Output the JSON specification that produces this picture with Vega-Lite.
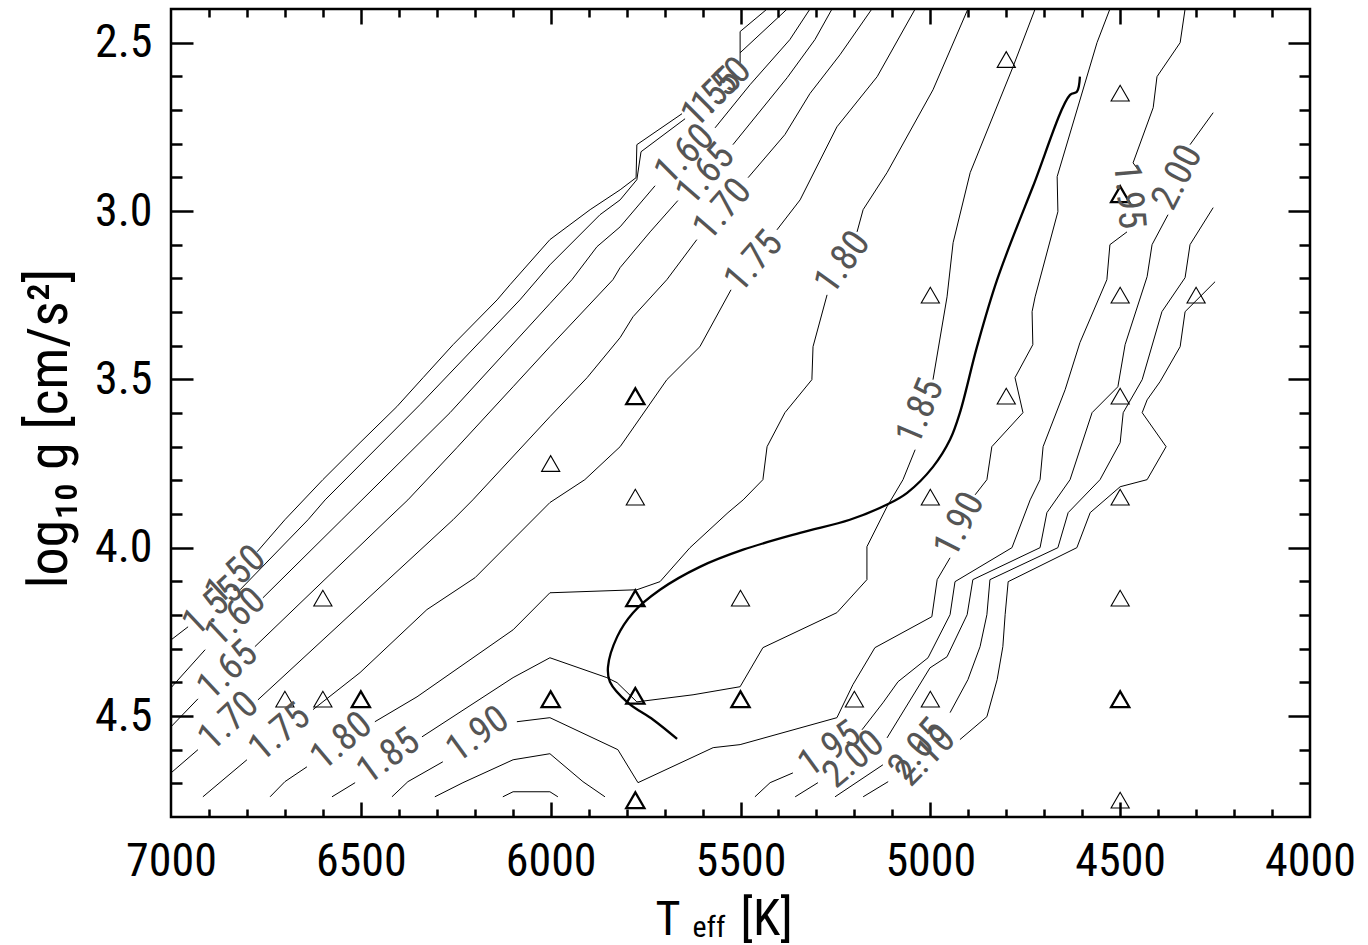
{
"$schema": "https://vega.github.io/schema/vega-lite/v6.json",
"width": 1139, "height": 808,
"autosize": "none",
"padding": {"left": 171, "top": 9, "right": 58, "bottom": 128},
"background": "white",
"config": {
  "view": {"stroke": "black", "strokeWidth": 2.5},
  "axis": {"grid": false, "domain": false, "tickColor": "black", "tickWidth": 2.5, "labelColor": "black", "titleColor": "black", "titleFontWeight": "normal", "labelFont": "Liberation Sans Narrow, Roboto Condensed, DejaVu Sans Condensed, sans-serif", "titleFont": "Liberation Sans Narrow, Roboto Condensed, DejaVu Sans Condensed, sans-serif"}
},
"datasets": {
"contours": [
{"lev":"1.50","seg":"150b","T":6773,"g":4.012},{"lev":"1.50","seg":"150b","T":6700,"g":3.917},{"lev":"1.50","seg":"150b","T":6600,"g":3.798},{"lev":"1.50","seg":"150b","T":6502,"g":3.688},{"lev":"1.50","seg":"150b","T":6405,"g":3.581},{"lev":"1.50","seg":"150b","T":6336,"g":3.495},{"lev":"1.50","seg":"150b","T":6257,"g":3.397},{"lev":"1.50","seg":"150b","T":6141,"g":3.264},{"lev":"1.50","seg":"150b","T":6107,"g":3.219},{"lev":"1.50","seg":"150b","T":6002,"g":3.085},{"lev":"1.50","seg":"150b","T":5896,"g":2.996},{"lev":"1.50","seg":"150b","T":5817,"g":2.937},{"lev":"1.50","seg":"150b","T":5775,"g":2.901},{"lev":"1.50","seg":"150b","T":5773,"g":2.803},{"lev":"1.50","seg":"150b","T":5654,"g":2.711},
{"lev":"1.50","seg":"150c","T":5501,"g":2.560},{"lev":"1.50","seg":"150c","T":5501,"g":2.467},{"lev":"1.50","seg":"150c","T":5430,"g":2.4},
{"lev":"1.55","seg":"155a","T":7000,"g":4.274},{"lev":"1.55","seg":"155a","T":6955,"g":4.235},
{"lev":"1.55","seg":"155b","T":6818,"g":4.125},{"lev":"1.55","seg":"155b","T":6639,"g":3.917},{"lev":"1.55","seg":"155b","T":6594,"g":3.858},{"lev":"1.55","seg":"155b","T":6344,"g":3.575},{"lev":"1.55","seg":"155b","T":6081,"g":3.264},{"lev":"1.55","seg":"155b","T":6002,"g":3.160},{"lev":"1.55","seg":"155b","T":5870,"g":3.011},{"lev":"1.55","seg":"155b","T":5817,"g":2.967},{"lev":"1.55","seg":"155b","T":5773,"g":2.907},{"lev":"1.55","seg":"155b","T":5762,"g":2.824},{"lev":"1.55","seg":"155b","T":5646,"g":2.726},
{"lev":"1.55","seg":"155c","T":5501,"g":2.530},{"lev":"1.55","seg":"155c","T":5377,"g":2.4},
{"lev":"1.60","seg":"160a","T":7000,"g":4.416},{"lev":"1.60","seg":"160a","T":6910,"g":4.303},
{"lev":"1.60","seg":"160b","T":6758,"g":4.149},{"lev":"1.60","seg":"160b","T":6550,"g":3.917},{"lev":"1.60","seg":"160b","T":6497,"g":3.858},{"lev":"1.60","seg":"160b","T":6265,"g":3.599},{"lev":"1.60","seg":"160b","T":6002,"g":3.275},{"lev":"1.60","seg":"160b","T":5944,"g":3.204},{"lev":"1.60","seg":"160b","T":5878,"g":3.106},{"lev":"1.60","seg":"160b","T":5817,"g":3.047},{"lev":"1.60","seg":"160b","T":5725,"g":2.925},
{"lev":"1.60","seg":"160c","T":5567,"g":2.753},{"lev":"1.60","seg":"160c","T":5475,"g":2.625},{"lev":"1.60","seg":"160c","T":5370,"g":2.491},{"lev":"1.60","seg":"160c","T":5317,"g":2.4},
{"lev":"1.65","seg":"165a","T":7000,"g":4.532},{"lev":"1.65","seg":"165a","T":6929,"g":4.449},
{"lev":"1.65","seg":"165b","T":6779,"g":4.294},{"lev":"1.65","seg":"165b","T":6431,"g":3.917},{"lev":"1.65","seg":"165b","T":6376,"g":3.858},{"lev":"1.65","seg":"165b","T":6247,"g":3.703},{"lev":"1.65","seg":"165b","T":6099,"g":3.522},{"lev":"1.65","seg":"165b","T":6002,"g":3.403},{"lev":"1.65","seg":"165b","T":5836,"g":3.204},{"lev":"1.65","seg":"165b","T":5817,"g":3.168},{"lev":"1.65","seg":"165b","T":5738,"g":3.062},{"lev":"1.65","seg":"165b","T":5665,"g":2.969},
{"lev":"1.65","seg":"165c","T":5520,"g":2.803},{"lev":"1.65","seg":"165c","T":5377,"g":2.604},{"lev":"1.65","seg":"165c","T":5304,"g":2.491},{"lev":"1.65","seg":"165c","T":5259,"g":2.4},
{"lev":"1.70","seg":"170a","T":7000,"g":4.669},{"lev":"1.70","seg":"170a","T":6929,"g":4.600},
{"lev":"1.70","seg":"170b","T":6771,"g":4.452},{"lev":"1.70","seg":"170b","T":6257,"g":3.917},{"lev":"1.70","seg":"170b","T":6205,"g":3.858},{"lev":"1.70","seg":"170b","T":6002,"g":3.611},{"lev":"1.70","seg":"170b","T":5904,"g":3.495},{"lev":"1.70","seg":"170b","T":5817,"g":3.376},{"lev":"1.70","seg":"170b","T":5783,"g":3.314},{"lev":"1.70","seg":"170b","T":5694,"g":3.204},{"lev":"1.70","seg":"170b","T":5615,"g":3.085},
{"lev":"1.70","seg":"170c","T":5480,"g":2.901},{"lev":"1.70","seg":"170c","T":5383,"g":2.773},{"lev":"1.70","seg":"170c","T":5317,"g":2.651},{"lev":"1.70","seg":"170c","T":5238,"g":2.536},{"lev":"1.70","seg":"170c","T":5154,"g":2.4},
{"lev":"1.75","seg":"175a","T":6916,"g":4.74},{"lev":"1.75","seg":"175a","T":6800,"g":4.630},
{"lev":"1.75","seg":"175b","T":6626,"g":4.481},{"lev":"1.75","seg":"175b","T":6502,"g":4.371},{"lev":"1.75","seg":"175b","T":6326,"g":4.184},{"lev":"1.75","seg":"175b","T":6199,"g":4.089},{"lev":"1.75","seg":"175b","T":6002,"g":3.866},{"lev":"1.75","seg":"175b","T":5910,"g":3.798},{"lev":"1.75","seg":"175b","T":5817,"g":3.700},{"lev":"1.75","seg":"175b","T":5694,"g":3.501},{"lev":"1.75","seg":"175b","T":5607,"g":3.403},{"lev":"1.75","seg":"175b","T":5525,"g":3.234},
{"lev":"1.75","seg":"175c","T":5404,"g":3.056},{"lev":"1.75","seg":"175c","T":5343,"g":2.967},{"lev":"1.75","seg":"175c","T":5246,"g":2.750},{"lev":"1.75","seg":"175c","T":5140,"g":2.601},{"lev":"1.75","seg":"175c","T":5040,"g":2.4},
{"lev":"1.80","seg":"180a","T":6739,"g":4.74},{"lev":"1.80","seg":"180a","T":6700,"g":4.695},{"lev":"1.80","seg":"180a","T":6642,"g":4.651},
{"lev":"1.80","seg":"180b","T":6463,"g":4.517},{"lev":"1.80","seg":"180b","T":6352,"g":4.443},{"lev":"1.80","seg":"180b","T":6099,"g":4.244},{"lev":"1.80","seg":"180b","T":6002,"g":4.134},{"lev":"1.80","seg":"180b","T":5773,"g":4.125},{"lev":"1.80","seg":"180b","T":5712,"g":4.101},{"lev":"1.80","seg":"180b","T":5633,"g":4.000},{"lev":"1.80","seg":"180b","T":5533,"g":3.896},{"lev":"1.80","seg":"180b","T":5493,"g":3.858},{"lev":"1.80","seg":"180b","T":5441,"g":3.798},{"lev":"1.80","seg":"180b","T":5430,"g":3.700},{"lev":"1.80","seg":"180b","T":5383,"g":3.599},{"lev":"1.80","seg":"180b","T":5312,"g":3.501},{"lev":"1.80","seg":"180b","T":5309,"g":3.403},{"lev":"1.80","seg":"180b","T":5272,"g":3.249},
{"lev":"1.80","seg":"180c","T":5193,"g":3.062},{"lev":"1.80","seg":"180c","T":5177,"g":2.996},{"lev":"1.80","seg":"180c","T":5114,"g":2.886},{"lev":"1.80","seg":"180c","T":4993,"g":2.640},{"lev":"1.80","seg":"180c","T":4901,"g":2.4},
{"lev":"1.85","seg":"185a","T":6576,"g":4.74},{"lev":"1.85","seg":"185a","T":6515,"g":4.698},
{"lev":"1.85","seg":"185b","T":6339,"g":4.562},{"lev":"1.85","seg":"185b","T":6099,"g":4.386},{"lev":"1.85","seg":"185b","T":6002,"g":4.327},{"lev":"1.85","seg":"185b","T":5852,"g":4.386},{"lev":"1.85","seg":"185b","T":5825,"g":4.401},{"lev":"1.85","seg":"185b","T":5773,"g":4.458},{"lev":"1.85","seg":"185b","T":5625,"g":4.437},{"lev":"1.85","seg":"185b","T":5501,"g":4.413},{"lev":"1.85","seg":"185b","T":5441,"g":4.297},{"lev":"1.85","seg":"185b","T":5246,"g":4.193},{"lev":"1.85","seg":"185b","T":5167,"g":4.095},{"lev":"1.85","seg":"185b","T":5167,"g":3.997},{"lev":"1.85","seg":"185b","T":5114,"g":3.878},{"lev":"1.85","seg":"185b","T":5072,"g":3.798},{"lev":"1.85","seg":"185b","T":5040,"g":3.709},
{"lev":"1.85","seg":"185c","T":4993,"g":3.501},{"lev":"1.85","seg":"185c","T":4956,"g":3.255},{"lev":"1.85","seg":"185c","T":4940,"g":3.094},{"lev":"1.85","seg":"185c","T":4895,"g":2.886},{"lev":"1.85","seg":"185c","T":4782,"g":2.571},{"lev":"1.85","seg":"185c","T":4724,"g":2.4},
{"lev":"1.90","seg":"190a","T":6418,"g":4.74},{"lev":"1.90","seg":"190a","T":6376,"g":4.695},{"lev":"1.90","seg":"190a","T":6284,"g":4.636},
{"lev":"1.90","seg":"190b","T":6089,"g":4.517},{"lev":"1.90","seg":"190b","T":6002,"g":4.505},{"lev":"1.90","seg":"190b","T":5823,"g":4.600},{"lev":"1.90","seg":"190b","T":5770,"g":4.698},{"lev":"1.90","seg":"190b","T":5572,"g":4.594},{"lev":"1.90","seg":"190b","T":5501,"g":4.585},{"lev":"1.90","seg":"190b","T":5246,"g":4.505},{"lev":"1.90","seg":"190b","T":5204,"g":4.407},{"lev":"1.90","seg":"190b","T":5146,"g":4.297},{"lev":"1.90","seg":"190b","T":4996,"g":4.205},{"lev":"1.90","seg":"190b","T":4982,"g":4.095},{"lev":"1.90","seg":"190b","T":4948,"g":4.030},
{"lev":"1.90","seg":"190c","T":4882,"g":3.843},{"lev":"1.90","seg":"190c","T":4851,"g":3.798},{"lev":"1.90","seg":"190c","T":4838,"g":3.700},{"lev":"1.90","seg":"190c","T":4756,"g":3.599},{"lev":"1.90","seg":"190c","T":4777,"g":3.495},{"lev":"1.90","seg":"190c","T":4730,"g":3.397},{"lev":"1.90","seg":"190c","T":4732,"g":3.299},{"lev":"1.90","seg":"190c","T":4724,"g":3.255},{"lev":"1.90","seg":"190c","T":4664,"g":3.002},{"lev":"1.90","seg":"190c","T":4666,"g":2.898},{"lev":"1.90","seg":"190c","T":4561,"g":2.500},{"lev":"1.90","seg":"190c","T":4527,"g":2.4},
{"lev":"1.95","seg":"195d","T":6305,"g":4.74},{"lev":"1.95","seg":"195d","T":6231,"g":4.698},{"lev":"1.95","seg":"195d","T":6099,"g":4.630},{"lev":"1.95","seg":"195d","T":6002,"g":4.612},{"lev":"1.95","seg":"195d","T":5915,"g":4.695},{"lev":"1.95","seg":"195d","T":5857,"g":4.74},
{"lev":"1.95","seg":"195a","T":5462,"g":4.74},{"lev":"1.95","seg":"195a","T":5422,"g":4.698},{"lev":"1.95","seg":"195a","T":5362,"g":4.669},
{"lev":"1.95","seg":"195b","T":5180,"g":4.541},{"lev":"1.95","seg":"195b","T":5125,"g":4.461},{"lev":"1.95","seg":"195b","T":5085,"g":4.398},{"lev":"1.95","seg":"195b","T":5006,"g":4.327},{"lev":"1.95","seg":"195b","T":4948,"g":4.199},{"lev":"1.95","seg":"195b","T":4935,"g":4.101},{"lev":"1.95","seg":"195b","T":4785,"g":4.000},{"lev":"1.95","seg":"195b","T":4737,"g":3.858},{"lev":"1.95","seg":"195b","T":4711,"g":3.798},{"lev":"1.95","seg":"195b","T":4703,"g":3.700},{"lev":"1.95","seg":"195b","T":4645,"g":3.531},{"lev":"1.95","seg":"195b","T":4606,"g":3.391},{"lev":"1.95","seg":"195b","T":4535,"g":3.204},{"lev":"1.95","seg":"195b","T":4527,"g":3.100},{"lev":"1.95","seg":"195b","T":4482,"g":3.062},
{"lev":"1.95","seg":"195c","T":4453,"g":2.877},{"lev":"1.95","seg":"195c","T":4466,"g":2.857},{"lev":"1.95","seg":"195c","T":4413,"g":2.693},{"lev":"1.95","seg":"195c","T":4403,"g":2.601},{"lev":"1.95","seg":"195c","T":4342,"g":2.500},{"lev":"1.95","seg":"195c","T":4329,"g":2.4},
{"lev":"2.00","seg":"200d","T":6126,"g":4.74},{"lev":"2.00","seg":"200d","T":6099,"g":4.725},{"lev":"2.00","seg":"200d","T":6002,"g":4.725},{"lev":"2.00","seg":"200d","T":5981,"g":4.74},
{"lev":"2.00","seg":"200a","T":5356,"g":4.74},{"lev":"2.00","seg":"200a","T":5296,"g":4.698},
{"lev":"2.00","seg":"200b","T":5114,"g":4.565},{"lev":"2.00","seg":"200b","T":5001,"g":4.357},{"lev":"2.00","seg":"200b","T":4956,"g":4.324},{"lev":"2.00","seg":"200b","T":4903,"g":4.199},{"lev":"2.00","seg":"200b","T":4888,"g":4.095},{"lev":"2.00","seg":"200b","T":4711,"g":4.000},{"lev":"2.00","seg":"200b","T":4693,"g":3.896},{"lev":"2.00","seg":"200b","T":4632,"g":3.798},{"lev":"2.00","seg":"200b","T":4574,"g":3.599},{"lev":"2.00","seg":"200b","T":4506,"g":3.522},{"lev":"2.00","seg":"200b","T":4487,"g":3.397},{"lev":"2.00","seg":"200b","T":4429,"g":3.195},{"lev":"2.00","seg":"200b","T":4416,"g":3.100},{"lev":"2.00","seg":"200b","T":4374,"g":3.011},
{"lev":"2.00","seg":"200c","T":4316,"g":2.803},{"lev":"2.00","seg":"200c","T":4255,"g":2.708},
{"lev":"2.05","seg":"205a","T":5251,"g":4.74},{"lev":"2.05","seg":"205a","T":5125,"g":4.645},
{"lev":"2.05","seg":"205b","T":4948,"g":4.490},{"lev":"2.05","seg":"205b","T":4901,"g":4.392},{"lev":"2.05","seg":"205b","T":4869,"g":4.294},{"lev":"2.05","seg":"205b","T":4851,"g":4.199},{"lev":"2.05","seg":"205b","T":4843,"g":4.095},{"lev":"2.05","seg":"205b","T":4664,"g":4.000},{"lev":"2.05","seg":"205b","T":4637,"g":3.896},{"lev":"2.05","seg":"205b","T":4553,"g":3.798},{"lev":"2.05","seg":"205b","T":4500,"g":3.688},{"lev":"2.05","seg":"205b","T":4492,"g":3.599},{"lev":"2.05","seg":"205b","T":4442,"g":3.501},{"lev":"2.05","seg":"205b","T":4390,"g":3.299},{"lev":"2.05","seg":"205b","T":4329,"g":3.198},{"lev":"2.05","seg":"205b","T":4316,"g":3.100},{"lev":"2.05","seg":"205b","T":4255,"g":2.990},
{"lev":"2.10","seg":"210a","T":5177,"g":4.74},{"lev":"2.10","seg":"210a","T":5111,"g":4.695},
{"lev":"2.10","seg":"210b","T":4922,"g":4.570},{"lev":"2.10","seg":"210b","T":4851,"g":4.502},{"lev":"2.10","seg":"210b","T":4824,"g":4.392},{"lev":"2.10","seg":"210b","T":4809,"g":4.294},{"lev":"2.10","seg":"210b","T":4803,"g":4.199},{"lev":"2.10","seg":"210b","T":4795,"g":4.101},{"lev":"2.10","seg":"210b","T":4614,"g":4.000},{"lev":"2.10","seg":"210b","T":4579,"g":3.896},{"lev":"2.10","seg":"210b","T":4500,"g":3.819},{"lev":"2.10","seg":"210b","T":4429,"g":3.798},{"lev":"2.10","seg":"210b","T":4379,"g":3.700},{"lev":"2.10","seg":"210b","T":4442,"g":3.599},{"lev":"2.10","seg":"210b","T":4429,"g":3.561},{"lev":"2.10","seg":"210b","T":4395,"g":3.507},{"lev":"2.10","seg":"210b","T":4342,"g":3.403},{"lev":"2.10","seg":"210b","T":4329,"g":3.299},{"lev":"2.10","seg":"210b","T":4250,"g":3.210}
],
"track": [
{"T":4606,"g":2.601},{"T":4614,"g":2.646},{"T":4632,"g":2.655},{"T":4730,"g":2.928},{"T":4824,"g":3.204},{"T":4877,"g":3.403},{"T":4922,"g":3.599},{"T":4948,"g":3.679},{"T":4993,"g":3.760},{"T":5061,"g":3.837},{"T":5114,"g":3.872},{"T":5212,"g":3.917},{"T":5343,"g":3.956},{"T":5493,"g":4.006},{"T":5607,"g":4.057},{"T":5712,"g":4.125},{"T":5783,"g":4.193},{"T":5825,"g":4.265},{"T":5849,"g":4.354},{"T":5844,"g":4.398},{"T":5796,"g":4.461},{"T":5730,"g":4.511},{"T":5667,"g":4.568}
],
"grid": [
{"T":4800,"g":2.55,"n":1},{"T":4500,"g":2.65,"n":1},{"T":4500,"g":2.95,"n":2},{"T":5000,"g":3.25,"n":1},{"T":4500,"g":3.25,"n":1},{"T":4300,"g":3.25,"n":1},
{"T":5777,"g":3.55,"n":2},{"T":4800,"g":3.55,"n":1},{"T":4500,"g":3.55,"n":1},{"T":6000,"g":3.75,"n":1},{"T":5777,"g":3.85,"n":1},{"T":5000,"g":3.85,"n":1},{"T":4500,"g":3.85,"n":1},
{"T":6600,"g":4.15,"n":1},{"T":5777,"g":4.15,"n":2},{"T":5500,"g":4.15,"n":1},{"T":4500,"g":4.15,"n":1},
{"T":6700,"g":4.45,"n":1},{"T":6600,"g":4.45,"n":1},{"T":6500,"g":4.45,"n":2},{"T":6000,"g":4.45,"n":2},{"T":5777,"g":4.44,"n":2},{"T":5500,"g":4.45,"n":2},{"T":5200,"g":4.45,"n":1},{"T":5000,"g":4.45,"n":1},{"T":4500,"g":4.45,"n":2},
{"T":5777,"g":4.75,"n":2},{"T":4500,"g":4.75,"n":1}
],
"labels": [
{"id":"ll150","lev":"1.50","T":6829,"g":4.083},{"id":"ll155","lev":"1.55","T":6889,"g":4.176},{"id":"ll160","lev":"1.60","T":6829,"g":4.208},{"id":"ll165","lev":"1.65","T":6850,"g":4.366},{"id":"ll170","lev":"1.70","T":6847,"g":4.517},{"id":"ll175","lev":"1.75","T":6713,"g":4.550},{"id":"ll180","lev":"1.80","T":6550,"g":4.576},{"id":"ll185","lev":"1.85","T":6426,"g":4.621},{"id":"ll190","lev":"1.90","T":6191,"g":4.556},
{"id":"up150","lev":"1.50","T":5549,"g":2.634},{"id":"up155","lev":"1.55","T":5575,"g":2.664},{"id":"up160","lev":"1.60","T":5646,"g":2.833},{"id":"up165","lev":"1.65","T":5591,"g":2.892},{"id":"up170","lev":"1.70","T":5546,"g":2.996},{"id":"up175","lev":"1.75","T":5464,"g":3.151},{"id":"up180","lev":"1.80","T":5230,"g":3.154},{"id":"up185","lev":"1.85","T":5025,"g":3.596},{"id":"up190","lev":"1.90","T":4922,"g":3.932},
{"id":"rt195","lev":"1.95","T":4479,"g":2.955},{"id":"rt200","lev":"2.00","T":4348,"g":2.901},
{"id":"lr195","lev":"1.95","T":5264,"g":4.600},{"id":"lr200","lev":"2.00","T":5201,"g":4.630},{"id":"lr205","lev":"2.05","T":5032,"g":4.600},{"id":"lr210","lev":"2.10","T":5011,"g":4.621}
]
},
"layer": [
{
 "data": {"name": "contours"},
 "mark": {"type": "line", "color": "black", "strokeWidth": 1, "clip": true},
 "encoding": {
  "x": {"field": "T", "type": "quantitative", "scale": {"domain": [4000, 7000], "reverse": true, "nice": false, "zero": false},
        "axis": {"orient": "bottom", "values": [4000,4500,5000,5500,6000,6500,7000], "format": "d", "ticks": false, "labelFontSize": 46, "labelPadding": 22, "labelFlush": false, "labelOverlap": false, "labelBound": false,
                 "title": "T", "titleFontSize": 48, "titleX": 484, "titleY": 117, "titleAlign": "left", "titleBaseline": "alphabetic"}},
  "y": {"field": "g", "type": "quantitative", "scale": {"domain": [2.4, 4.8], "reverse": true, "nice": false, "zero": false},
        "axis": {"orient": "left", "values": [2.5,3,3.5,4,4.5], "format": ".1f", "ticks": false, "labelFontSize": 46, "labelPadding": 19, "labelFlush": false, "labelOverlap": false, "labelBound": false,
                 "title": "log₁₀ g  [cm/s²]", "titleFontSize": 56, "titleAngle": -90, "titleX": -105, "titleY": 419, "titleAlign": "center", "titleBaseline": "alphabetic"}},
  "detail": {"field": "seg"},
  "order": {"value": null}
 }
},
{
 "data": {"name": "track"},
 "mark": {"type": "line", "color": "black", "strokeWidth": 2.3, "clip": true, "interpolate": "catmull-rom"},
 "encoding": {
  "x": {"field": "T", "type": "quantitative", "scale": {"domain": [4000, 7000], "reverse": true, "nice": false, "zero": false},
        "axis": {"orient": "bottom", "values": [4500,5000,5500,6000,6500], "offset": -15, "tickSize": 15, "labels": false, "title": null}},
  "y": {"field": "g", "type": "quantitative", "scale": {"domain": [2.4, 4.8], "reverse": true, "nice": false, "zero": false},
        "axis": {"orient": "left", "values": [2.5,3,3.5,4,4.5], "offset": -22, "tickSize": 22, "labels": false, "title": null}},
  "order": {"value": null}
 }
},
{
 "data": {"name": "grid"},
 "mark": {"type": "point", "shape": "triangle-up", "filled": false, "color": "black", "size": 330, "opacity": 1},
 "encoding": {
  "x": {"field": "T", "type": "quantitative", "scale": {"domain": [4000, 7000], "reverse": true, "nice": false, "zero": false},
        "axis": {"orient": "bottom", "values": [4100,4200,4300,4400,4600,4700,4800,4900,5100,5200,5300,5400,5600,5700,5800,5900,6100,6200,6300,6400,6600,6700,6800,6900], "offset": -8, "tickSize": 8, "labels": false, "title": null}},
  "y": {"field": "g", "type": "quantitative", "scale": {"domain": [2.4, 4.8], "reverse": true, "nice": false, "zero": false},
        "axis": {"orient": "left", "values": [2.6,2.7,2.8,2.9,3.1,3.2,3.3,3.4,3.6,3.7,3.8,3.9,4.1,4.2,4.3,4.4,4.6,4.7], "offset": -11, "tickSize": 11, "labels": false, "title": null}},
  "strokeWidth": {"field": "n", "type": "quantitative", "scale": {"domain": [1, 2], "range": [1.1, 2.3]}, "legend": null}
 }
},
{
 "data": {"name": "labels"},
 "transform": [{"filter": {"field": "id", "oneOf": ["ll150","ll155","ll160","ll165","ll170"]}}],
 "mark": {"type": "text", "angle": -43, "font": "Liberation Sans Narrow, Roboto Condensed, DejaVu Sans Condensed, sans-serif", "fontSize": 38, "color": "#555", "align": "center", "baseline": "middle"},
 "encoding": {
  "x": {"field": "T", "type": "quantitative", "scale": {"domain": [4000, 7000], "reverse": true, "nice": false, "zero": false},
        "axis": {"orient": "top", "values": [4500,5000,5500,6000,6500], "offset": -15, "tickSize": 15, "labels": false, "title": null}},
  "y": {"field": "g", "type": "quantitative", "scale": {"domain": [2.4, 4.8], "reverse": true, "nice": false, "zero": false},
        "axis": {"orient": "right", "values": [2.5,3,3.5,4,4.5], "offset": -22, "tickSize": 22, "labels": false, "title": null}},
  "text": {"field": "lev"}
 }
},
{
 "data": {"name": "labels"},
 "transform": [{"filter": {"field": "id", "oneOf": ["ll175","ll180","lr200"]}}],
 "mark": {"type": "text", "angle": -40, "font": "Liberation Sans Narrow, Roboto Condensed, DejaVu Sans Condensed, sans-serif", "fontSize": 38, "color": "#555", "align": "center", "baseline": "middle"},
 "encoding": {
  "x": {"field": "T", "type": "quantitative", "scale": {"domain": [4000, 7000], "reverse": true, "nice": false, "zero": false},
        "axis": {"orient": "top", "values": [4100,4200,4300,4400,4600,4700,4800,4900,5100,5200,5300,5400,5600,5700,5800,5900,6100,6200,6300,6400,6600,6700,6800,6900], "offset": -8, "tickSize": 8, "labels": false, "title": null}},
  "y": {"field": "g", "type": "quantitative", "scale": {"domain": [2.4, 4.8], "reverse": true, "nice": false, "zero": false},
        "axis": {"orient": "right", "values": [2.6,2.7,2.8,2.9,3.1,3.2,3.3,3.4,3.6,3.7,3.8,3.9,4.1,4.2,4.3,4.4,4.6,4.7], "offset": -11, "tickSize": 11, "labels": false, "title": null}},
  "text": {"field": "lev"}
 }
},
{
 "data": {"name": "labels"},
 "transform": [{"filter": {"field": "id", "oneOf": ["ll185","ll190","lr195"]}}],
 "mark": {"type": "text", "angle": -36, "font": "Liberation Sans Narrow, Roboto Condensed, DejaVu Sans Condensed, sans-serif", "fontSize": 38, "color": "#555", "align": "center", "baseline": "middle"},
 "encoding": {
  "x": {"field": "T", "type": "quantitative", "scale": {"domain": [4000, 7000], "reverse": true, "nice": false, "zero": false},
        "axis": {"orient": "bottom", "values": [], "ticks": false, "labels": false, "title": "eff", "titleFontSize": 30, "titleX": 521, "titleY": 119, "titleAlign": "left", "titleBaseline": "alphabetic"}},
  "y": {"field": "g", "type": "quantitative", "scale": {"domain": [2.4, 4.8], "reverse": true, "nice": false, "zero": false}, "axis": null},
  "text": {"field": "lev"}
 }
},
{
 "data": {"name": "labels"},
 "transform": [{"filter": {"field": "id", "oneOf": ["up150","up155","up160","lr210"]}}],
 "mark": {"type": "text", "angle": -45, "font": "Liberation Sans Narrow, Roboto Condensed, DejaVu Sans Condensed, sans-serif", "fontSize": 38, "color": "#555", "align": "center", "baseline": "middle"},
 "encoding": {
  "x": {"field": "T", "type": "quantitative", "scale": {"domain": [4000, 7000], "reverse": true, "nice": false, "zero": false},
        "axis": {"orient": "bottom", "values": [], "ticks": false, "labels": false, "title": "[K]", "titleFontSize": 50, "titleX": 569, "titleY": 117, "titleAlign": "left", "titleBaseline": "alphabetic"}},
  "y": {"field": "g", "type": "quantitative", "scale": {"domain": [2.4, 4.8], "reverse": true, "nice": false, "zero": false}, "axis": null},
  "text": {"field": "lev"}
 }
},
{
 "data": {"name": "labels"},
 "transform": [{"filter": {"field": "id", "oneOf": ["up165","up170","up175","lr205"]}}],
 "mark": {"type": "text", "angle": -49, "font": "Liberation Sans Narrow, Roboto Condensed, DejaVu Sans Condensed, sans-serif", "fontSize": 38, "color": "#555", "align": "center", "baseline": "middle"},
 "encoding": {
  "x": {"field": "T", "type": "quantitative", "scale": {"domain": [4000, 7000], "reverse": true, "nice": false, "zero": false}, "axis": null},
  "y": {"field": "g", "type": "quantitative", "scale": {"domain": [2.4, 4.8], "reverse": true, "nice": false, "zero": false}, "axis": null},
  "text": {"field": "lev"}
 }
},
{
 "data": {"name": "labels"},
 "transform": [{"filter": {"field": "id", "oneOf": ["up180"]}}],
 "mark": {"type": "text", "angle": -54, "font": "Liberation Sans Narrow, Roboto Condensed, DejaVu Sans Condensed, sans-serif", "fontSize": 38, "color": "#555", "align": "center", "baseline": "middle"},
 "encoding": {
  "x": {"field": "T", "type": "quantitative", "scale": {"domain": [4000, 7000], "reverse": true, "nice": false, "zero": false}, "axis": null},
  "y": {"field": "g", "type": "quantitative", "scale": {"domain": [2.4, 4.8], "reverse": true, "nice": false, "zero": false}, "axis": null},
  "text": {"field": "lev"}
 }
},
{
 "data": {"name": "labels"},
 "transform": [{"filter": {"field": "id", "oneOf": ["up190","rt200"]}}],
 "mark": {"type": "text", "angle": -63, "font": "Liberation Sans Narrow, Roboto Condensed, DejaVu Sans Condensed, sans-serif", "fontSize": 38, "color": "#555", "align": "center", "baseline": "middle"},
 "encoding": {
  "x": {"field": "T", "type": "quantitative", "scale": {"domain": [4000, 7000], "reverse": true, "nice": false, "zero": false}, "axis": null},
  "y": {"field": "g", "type": "quantitative", "scale": {"domain": [2.4, 4.8], "reverse": true, "nice": false, "zero": false}, "axis": null},
  "text": {"field": "lev"}
 }
},
{
 "data": {"name": "labels"},
 "transform": [{"filter": {"field": "id", "oneOf": ["up185"]}}],
 "mark": {"type": "text", "angle": -67, "font": "Liberation Sans Narrow, Roboto Condensed, DejaVu Sans Condensed, sans-serif", "fontSize": 38, "color": "#555", "align": "center", "baseline": "middle"},
 "encoding": {
  "x": {"field": "T", "type": "quantitative", "scale": {"domain": [4000, 7000], "reverse": true, "nice": false, "zero": false}, "axis": null},
  "y": {"field": "g", "type": "quantitative", "scale": {"domain": [2.4, 4.8], "reverse": true, "nice": false, "zero": false}, "axis": null},
  "text": {"field": "lev"}
 }
},
{
 "data": {"name": "labels"},
 "transform": [{"filter": {"field": "id", "oneOf": ["rt195"]}}],
 "mark": {"type": "text", "angle": 85, "font": "Liberation Sans Narrow, Roboto Condensed, DejaVu Sans Condensed, sans-serif", "fontSize": 38, "color": "#555", "align": "center", "baseline": "middle"},
 "encoding": {
  "x": {"field": "T", "type": "quantitative", "scale": {"domain": [4000, 7000], "reverse": true, "nice": false, "zero": false}, "axis": null},
  "y": {"field": "g", "type": "quantitative", "scale": {"domain": [2.4, 4.8], "reverse": true, "nice": false, "zero": false}, "axis": null},
  "text": {"field": "lev"}
 }
}
],
"resolve": {"axis": {"x": "independent", "y": "independent"}}
}
